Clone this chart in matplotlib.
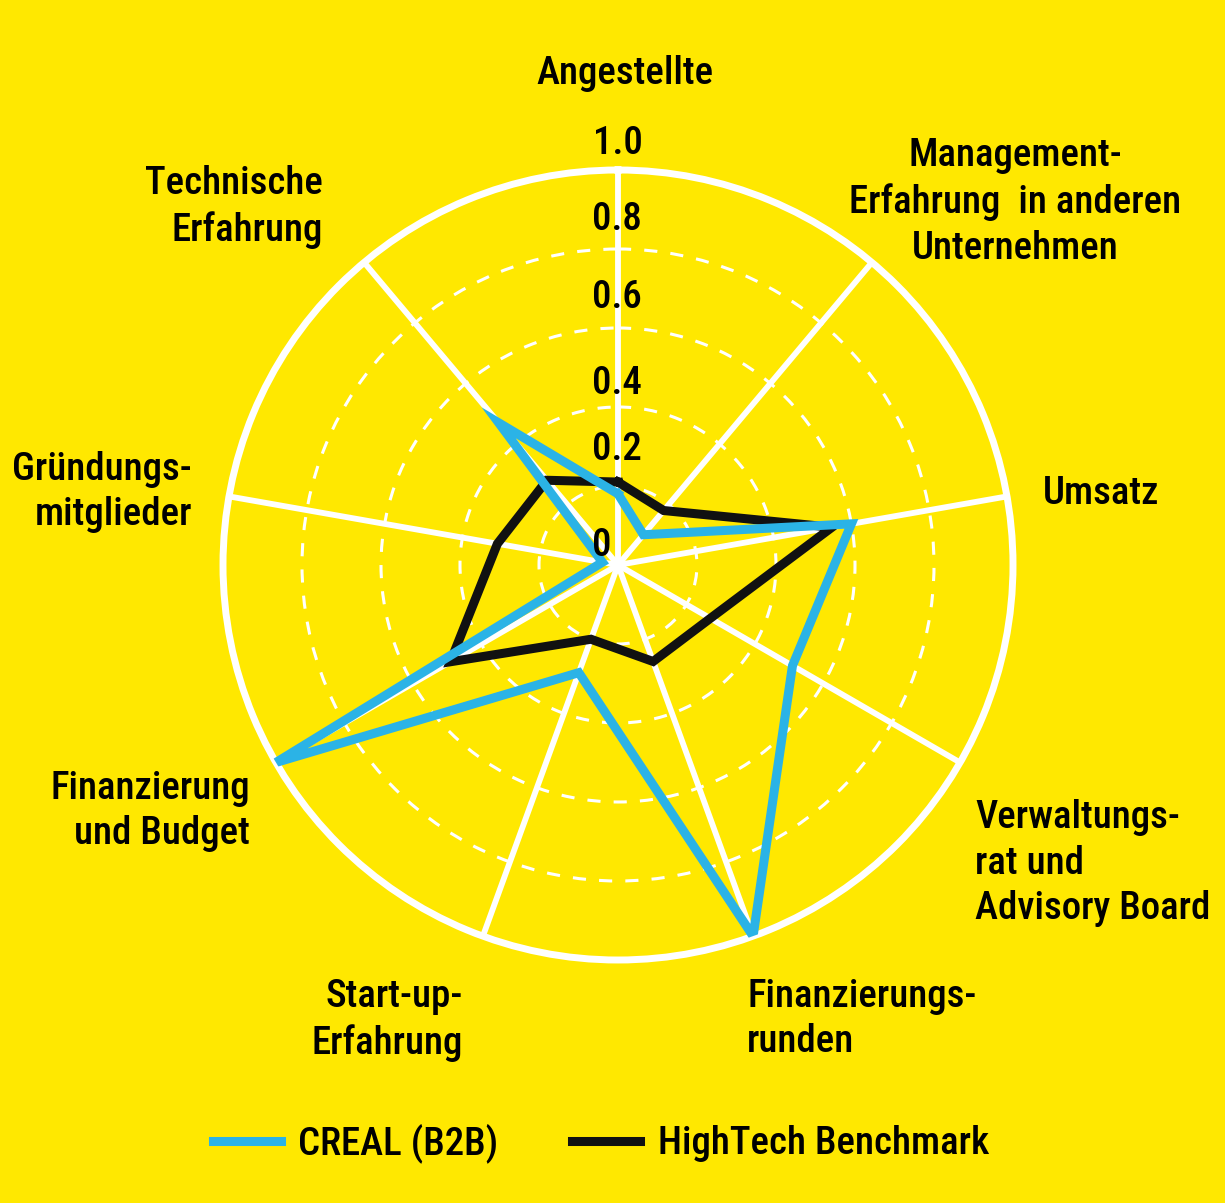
import numpy as np
import matplotlib
matplotlib.use("Agg")
import matplotlib.pyplot as plt
from matplotlib import font_manager as fm

# ---------------- data ----------------
categories = [
    "Angestellte",
    "Management-\nErfahrung  in anderen\nUnternehmen",
    "Umsatz",
    "Verwaltungs-\nrat und\nAdvisory Board",
    "Finanzierungs-\nrunden",
    "Start-up-\nErfahrung",
    "Finanzierung\nund Budget",
    "Gründungs-\nmitglieder",
    "Technische\nErfahrung",
]
creal = [0.18, 0.10, 0.60, 0.51, 1.00, 0.29, 1.00, 0.04, 0.47]
hightech = [0.21, 0.18, 0.55, 0.27, 0.26, 0.20, 0.49, 0.31, 0.28]
series_names = ["CREAL (B2B)", "HighTech Benchmark"]
r_ticks = [0.2, 0.4, 0.6, 0.8]
r_tick_labels = ["0", "0.2", "0.4", "0.6", "0.8", "1.0"]

# ---------------- style ----------------
YELLOW = "#FFE800"
BLUE = "#2BB3E6"
BLACK = "#111111"
W, H = 1225, 1203
DPI = 100

# find a condensed font if one exists
cands = []
for f in fm.fontManager.ttflist:
    nm = f.name.lower()
    st = str(f.stretch).lower()
    cond = ("condensed" in nm or "narrow" in nm or "condensed" in st
            or (isinstance(f.stretch, int) and f.stretch < 500))
    if cond and f.style == "normal":
        w = f.weight if isinstance(f.weight, int) else {"normal": 400, "bold": 700}.get(f.weight, 400)
        if "roboto" in nm: pref = 0
        elif "open sans" in nm: pref = 1
        elif "liberation" in nm: pref = 2
        elif "dejavu" in nm: pref = 3
        else: pref = 4
        cands.append((pref, abs(w - 500), f.fname))
cands.sort()
if cands:
    FP = fm.FontProperties(fname=cands[0][2])
    FS = 28
else:
    FP = fm.FontProperties(family="DejaVu Sans")
    FS = 23
LS = 1.3

fig = plt.figure(figsize=(W / DPI, H / DPI), dpi=DPI, facecolor=YELLOW)
cx, cy, R = 618, 565, 395
ax = fig.add_axes([(cx - R) / W, (H - cy - R) / H, 2 * R / W, 2 * R / H],
                  projection="polar", facecolor=YELLOW)
ax.set_theta_zero_location("N")
ax.set_theta_direction(-1)
ax.set_ylim(0, 1)

n = len(categories)
angles = np.linspace(0, 2 * np.pi, n, endpoint=False)
ax.set_thetagrids(np.degrees(angles), labels=[""] * n)
ax.set_rgrids(r_ticks, labels=[""] * len(r_ticks))
ax.xaxis.grid(True, color="white", linewidth=4.2, linestyle="-")
ax.yaxis.grid(True, color="white", linewidth=2.2, linestyle=(0, (4.3, 4.3)))
ax.spines["polar"].set_color("white")
ax.spines["polar"].set_linewidth(5)
ax.tick_params(axis="both", length=0, pad=0)

th = np.concatenate([angles, angles[:1]])
l2, = ax.plot(th, hightech + hightech[:1], color=BLACK, lw=6.5,
              solid_joinstyle="miter", zorder=3, label=series_names[1])
l1, = ax.plot(th, creal + creal[:1], color=BLUE, lw=6.5,
              solid_joinstyle="miter", zorder=4, label=series_names[0])

def ftext(x, y, s, **kw):
    fig.text(x / W, 1 - y / H, s, fontproperties=FP, fontsize=FS,
             color="black", linespacing=LS, **kw)

# radial tick labels
tick_pos = [(602, 545), (617, 450), (617, 383), (617, 297), (617, 220), (618, 143)]
for (x, y), s in zip(tick_pos, r_tick_labels):
    ftext(x, y, s, ha="center", va="center", zorder=10)

# category labels
label_pos = [
    (625, 73, "center", "center"),
    (1015, 202, "center", "center"),
    (1043, 493, "left", "center"),
    (975, 863, "left", "center"),
    (747, 1019, "left", "center"),
    (463, 1020, "right", "center"),
    (250, 811, "right", "center"),
    (192, 492, "right", "center"),
    (323, 207, "right", "center"),
]
for (x, y, ha, va), s in zip(label_pos, categories):
    ma = "center" if ha == "center" else ha
    ftext(x, y, s, ha=ha, va=va, multialignment=ma)

lp = FP.copy()
lp.set_size(FS)
fig.legend(handles=[l1, l2], loc="center", bbox_to_anchor=(601 / W, 1 - 1143 / H),
           ncol=2, frameon=False, prop=lp, handlelength=1.75,
           handletextpad=0.45, columnspacing=1.9)

fig.savefig("out.png", dpi=DPI, facecolor=YELLOW)
